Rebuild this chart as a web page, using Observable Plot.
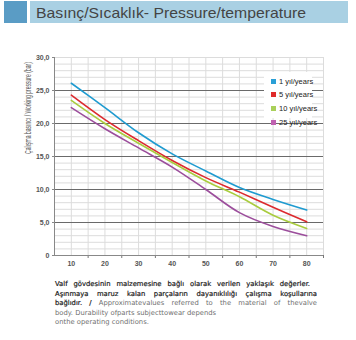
<!DOCTYPE html>
<html><head><meta charset="utf-8">
<script src="https://cdn.jsdelivr.net/npm/d3@7"></script>
<script src="https://cdn.jsdelivr.net/npm/@observablehq/plot@0.6"></script>
<style>
body{margin:0;background:#fff;width:356px;height:340px;position:relative;overflow:hidden;font-family:"Liberation Sans",Arial,sans-serif}
#chart{position:absolute;left:0;top:0}
.abs{position:absolute}
#legend{position:absolute;left:264px;top:72px;width:48px;height:46px;background:#fff}
.li{position:absolute;left:7px;font-size:7.5px;color:#222;white-space:nowrap;line-height:8px}
.li span{display:inline-block;width:5px;height:5px;margin-right:3px;vertical-align:0px}
#caption{position:absolute;left:55px;top:280px;width:262px;font-family:"DejaVu Sans",sans-serif;font-size:6.8px;line-height:9.5px;color:#222}
#caption div{white-space:nowrap;height:9.5px}
.j{text-align:justify;text-align-last:justify;white-space:normal!important}
.b{color:#1a1a1a;-webkit-text-stroke:0.2px #1a1a1a}
.g{color:#707070}
</style></head><body>
<svg class="abs" style="left:0;top:0" width="356" height="26">
  <rect x="4" y="1" width="23" height="22" fill="#5a9cc5"></rect>
  <rect x="30" y="1" width="318" height="22" fill="#a9d0e3"></rect>
  <text x="36" y="17.5" font-family="Liberation Sans, Arial, sans-serif" font-size="15" fill="#444" textLength="270" lengthAdjust="spacingAndGlyphs">Basınç/Sıcaklık- Pressure/temperature</text>
</svg>
<div id="chart"></div>
<svg class="abs" style="left:14px;top:0px" width="26" height="230">
  <text id="ylab" transform="translate(17,108) rotate(-90)" text-anchor="middle" font-family="Liberation Sans Narrow, Liberation Sans, Arial, sans-serif" font-size="9" fill="#555">Çalışma basıncı / Working pressure (bar)</text>
</svg>
<div id="legend"></div>
<div id="caption">
  <div class="j b" style="width:255px">Valf gövdesinin malzemesine bağlı olarak verilen yaklaşık değerler.</div>
  <div class="j b">Aşınmaya maruz kalan parçaların dayanıklılığı çalışma koşullarına</div>
  <div class="j"><span class="b">bağlıdır. /</span> <span class="g">Approximatevalues referred to the material of thevalve</span></div>
  <div class="g">body. Durability ofparts subjecttowear depends</div>
  <div class="g">onthe operating conditions.</div>
</div>
<script>
const ages = [10, 20, 30, 40, 50, 60, 70, 80];
const series = ["1 yıl/years", "5 yıl/years", "10 yıl/years", "25 yıl/years"];
const p1 = [26.1, 22.4, 18.6, 15.4, 12.8, 10.3, 8.5, 6.9];
const p5 = [24.3, 20.6, 17.4, 14.4, 11.8, 9.6, 7.3, 5.1];
const p10 = [23.5, 20.0, 17.0, 14.1, 11.3, 8.9, 6.1, 4.1];
const p25 = [22.4, 19.2, 16.3, 13.4, 10.0, 6.5, 4.4, 3.0];
const yTicks = [0, 5, 10, 15, 20, 25, 30];
const xTicks = ages;
const lineColors = ["#1f9bd0", "#dc2a2e", "#a9cc3e", "#9c4e9c"];
const legendColors = ["#2a9fd6", "#e02a2a", "#a9d05a", "#c060b0"];

const values = [p1, p5, p10, p25];
const rows = [];
series.forEach((s, i) => ages.forEach((a, j) => rows.push({series: s, age: a, value: values[i][j]})));

const chart = Plot.plot({
  width: 356, height: 275,
  marginTop: 57, marginBottom: 20, marginLeft: 54, marginRight: 33,
  style: {fontFamily: "Liberation Sans, Arial, sans-serif", fontSize: "7px", color: "#555", background: "transparent"},
  x: {type: "linear", domain: [5, 85]},
  y: {domain: [0, 30]},
  color: {domain: series, range: lineColors},
  marks: [
    Plot.gridX({ticks: d3.range(10, 86, 5), stroke: "#dcdcdc", strokeOpacity: 1}),
    Plot.gridY({ticks: d3.range(1, 31).filter(d => d % 5 !== 0 || d === 30), stroke: "#dcdcdc", strokeOpacity: 1}),
    Plot.gridY({ticks: [5, 10, 15, 20, 25], stroke: "#6a6a6a", strokeOpacity: 1}),
    Plot.axisY({ticks: yTicks, tickSize: 2, tickPadding: 3, stroke: "#888", label: null, fontWeight: "bold",
      tickFormat: d => d === 0 ? "0" : d.toFixed(1).replace(".", ",")}),
    Plot.axisX({ticks: xTicks, tickSize: 0, tickPadding: 6, label: null, fontWeight: "bold", tickFormat: d => String(d)}),
    Plot.axisX({ticks: d3.range(15, 86, 10), tickSize: 3, stroke: "#777", tickFormat: () => "", label: null}),
    Plot.ruleX([5], {stroke: "#888"}),
    Plot.ruleY([0], {stroke: "#888"}),
    Plot.line(rows, {x: "age", y: "value", stroke: "series", z: "series", curve: "catmull-rom", strokeWidth: 1.6})
  ]
});
document.getElementById("chart").append(chart);

const ylab = document.getElementById("ylab");
const natural = ylab.getComputedTextLength();
ylab.setAttribute("transform", `translate(17,108) rotate(-90) scale(${92 / natural},1)`);

const legend = document.getElementById("legend");
const legendTops = [5.5, 19, 33, 47];
series.forEach((s, i) => {
  const d = document.createElement("div");
  d.className = "li";
  d.style.top = (legendTops[i]) + "px";
  d.innerHTML = `<span style="background:${legendColors[i]}"></span>${s}`;
  legend.append(d);
});
</script>
</body></html>
